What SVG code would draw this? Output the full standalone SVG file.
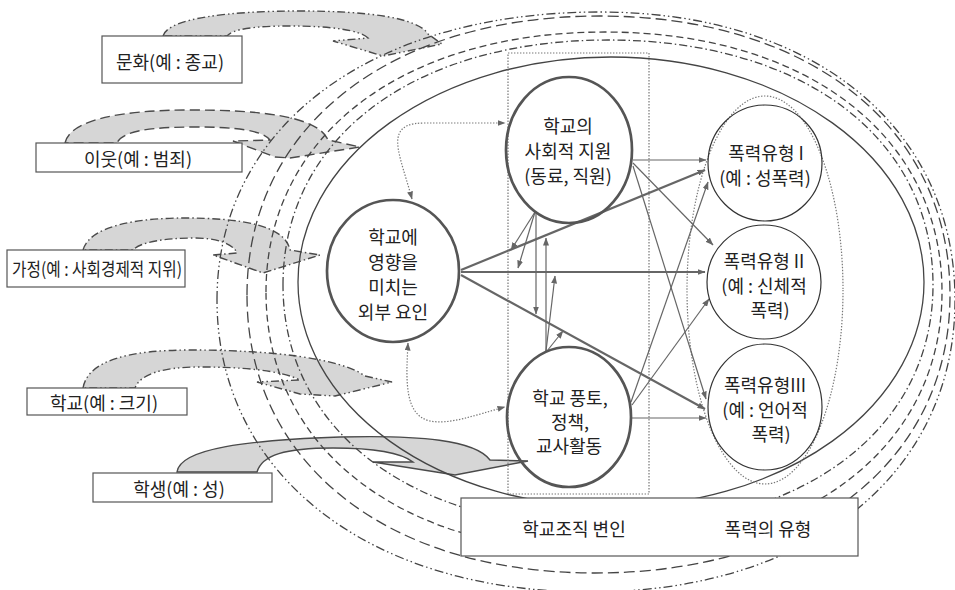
<svg xmlns="http://www.w3.org/2000/svg" width="955" height="590" viewBox="0 0 955 590">
<style>
.bg{fill:#fff}
.band{fill:#d6d6d6;stroke:#4a4a4a;stroke-width:1.4}
.ring{fill:none;stroke:#444;stroke-width:1.3}
.lbl{fill:#fff;stroke:#555;stroke-width:1.2}
.t{font-family:"Noto Sans CJK KR","Noto Sans",sans-serif;font-size:18px;fill:#222;text-anchor:middle;dominant-baseline:central}
.node{fill:none;stroke:#555;stroke-width:2.7}
.vnode{fill:none;stroke:#333;stroke-width:1.2}
.arr{fill:none;stroke:#666;stroke-width:1.2;marker-end:url(#ah)}
.thick{stroke-width:2.2}
.dot{fill:none;stroke:#777;stroke-width:1.2;stroke-dasharray:1.4 1.6}
.dotarr{marker-start:url(#ah);marker-end:url(#ah)}
</style>
<defs>
<marker id="ah" viewBox="0 0 8 6" refX="7.5" refY="3" markerWidth="8" markerHeight="6" markerUnits="userSpaceOnUse" orient="auto-start-reverse">
<path d="M0,0 L8,3 L0,6 Z" fill="#666"/>
</marker>
</defs>
<rect class="bg" x="0" y="0" width="955" height="590"/>

<g id="influence-bands">
<path class="band" stroke-dasharray="8 3 1.5 3 1.5 3" d="M163,36 C168,18 230,11 300,11 C370,11 418,18 428,34 L442,44 L383,56 L333,41 L368,38 C360,30 330,26 290,26 C255,26 232,29 227,36 Z"/>
<path class="band" stroke-dasharray="10 5" d="M65,143 C70,120 120,110 190,110 C260,110 318,116 328,140 L360,147 L290,158 L275,157 L233,141 L270,140 C262,130 235,127 195,127 C150,127 122,131 117,143 Z"/>
<path class="band" stroke-dasharray="8 3 1.5 3" d="M83,250 C90,225 140,218 185,218 C240,218 285,225 290,250 L320,255 L263,273 L213,255 L237,253 C233,243 215,238 195,238 C165,238 140,242 133,250 Z"/>
<path class="band" stroke-dasharray="8 3 1.5 3 1.5 3" d="M83,388 C88,360 130,350 190,350 C270,350 340,358 365,376 L392,382 L335,396 L300,394 L257,382 L300,380 C280,370 240,367 200,367 C160,367 140,375 135,388 Z"/>
<path class="band" stroke="#444" stroke-width="1.6" d="M177,472 C180,448 250,440 340,437 C420,435 475,440 490,460 L528,461 L455,475 L373,462 L413,462 C400,452 370,448 333,448 C285,448 262,455 257,472 Z"/>
</g>

<g id="rings">
<path class="ring" stroke-dasharray="9 3 1.5 3 1.5 3" d="M217,300 C217,127 370,12 600,12 C813,12 955,127 955,300 C955,474 809,592 590,592 C368,592 217,474 217,300 Z"/>
<path class="ring" stroke-dasharray="11 5" d="M247,295 C247,128 388,16 600,16 C810,16 950,128 950,295 C950,462 807,573 595,573 C385,573 247,462 247,295 Z"/>
<path class="ring" stroke-dasharray="7 4" d="M266,292 C266,136 402,32 605,32 C807,32 942,136 942,292 C942,448 805,552 600,552 C400,552 266,448 266,292 Z"/>
<path class="ring" stroke-dasharray="8 3 1.5 3" d="M283,285 C283,138 413,40 608,40 C803,40 933,138 933,285 C933,430 803,528 605,528 C411,528 283,430 283,285 Z"/>
<ellipse class="ring" cx="611" cy="282" rx="313" ry="225"/>
</g>

<g id="group-school-org">
<rect class="dot" x="508" y="53" width="141" height="441"/>
</g>
<g id="group-violence-types">
<ellipse class="dot" cx="765" cy="290" rx="78" ry="194"/>
</g>

<g id="legend">
<rect class="lbl" x="461" y="498" width="397" height="58"/>
<text class="t" x="574" y="528">학교조직 변인</text>
<text class="t" x="768" y="528">폭력의 유형</text>
</g>

<g id="label-culture">
<rect class="lbl" x="102" y="36" width="140" height="47"/>
<text class="t" x="170" y="61">문화(예 : 종교)</text>
</g>
<g id="label-neighborhood">
<rect class="lbl" x="36" y="143" width="206" height="29"/>
<text class="t" x="138" y="158">이웃(예 : 범죄)</text>
</g>
<g id="label-family">
<rect class="lbl" x="7" y="250" width="178" height="37"/>
<text class="t" x="12" y="268" style="text-anchor:start" textLength="170" lengthAdjust="spacingAndGlyphs">가정(예 : 사회경제적 지위)</text>
</g>
<g id="label-school">
<rect class="lbl" x="27" y="388" width="160" height="27"/>
<text class="t" x="104" y="402">학교(예 : 크기)</text>
</g>
<g id="label-student">
<rect class="lbl" x="93" y="473" width="179" height="29"/>
<text class="t" x="179" y="488">학생(예 : 성)</text>
</g>

<g id="connectors">
<path class="arr" d="M633,160 L706,160"/>
<path class="arr" d="M633,163 L713,245"/>
<path class="arr" d="M633,166 L706,399"/>
<path class="arr thick" d="M461,270 L705,170"/>
<path class="arr thick" d="M461,272 L705,272"/>
<path class="arr thick" d="M461,275 L705,409"/>
<path class="arr" d="M632,418 L706,418"/>
<path class="arr" d="M632,405 L709,299"/>
<path class="arr" d="M631,402 L708,182"/>
<path class="arr" d="M535,212 L511,250"/>
<path class="arr" d="M535,212 L518,268"/>
<path class="arr" d="M536,212 L536,314"/>
<path class="arr" d="M546,351 L546,238"/>
<path class="arr" d="M546,351 L555,276"/>
<path class="arr" d="M547,351 L563,331"/>
<path class="dot dotarr" d="M412,199 C404,170 396,150 398,138 C400,126 410,123 425,123 L505,123"/>
<path class="dot dotarr" d="M408,343 C406,380 404,415 430,421 C450,425 475,415 505,407"/>
</g>

<g id="node-external">
<ellipse class="node" cx="393" cy="271" rx="66" ry="71"/>
<text class="t" x="393" y="236">학교에</text>
<text class="t" x="393" y="261">영향을</text>
<text class="t" x="393" y="286">미치는</text>
<text class="t" x="393" y="311">외부 요인</text>
</g>
<g id="node-social-support">
<ellipse class="node" cx="569" cy="150" rx="63" ry="73"/>
<text class="t" x="568" y="125">학교의</text>
<text class="t" x="568" y="150">사회적 지원</text>
<text class="t" x="568" y="175">(동료, 직원)</text>
</g>
<g id="node-climate">
<ellipse class="node" cx="569" cy="417" rx="62" ry="70"/>
<text class="t" x="570" y="397">학교 풍토,</text>
<text class="t" x="570" y="421">정책,</text>
<text class="t" x="569" y="445">교사활동</text>
</g>
<g id="node-violence-1">
<ellipse class="vnode" cx="765" cy="163" rx="57" ry="58"/>
<text class="t" x="766" y="152">폭력유형 I</text>
<text class="t" x="765" y="177">(예 : 성폭력)</text>
</g>
<g id="node-violence-2">
<ellipse class="vnode" cx="764" cy="282" rx="57" ry="57"/>
<text class="t" x="764" y="260">폭력유형 II</text>
<text class="t" x="764" y="285">(예 : 신체적</text>
<text class="t" x="770" y="309">폭력)</text>
</g>
<g id="node-violence-3">
<ellipse class="vnode" cx="765" cy="407" rx="57" ry="63"/>
<text class="t" x="765" y="384">폭력유형III</text>
<text class="t" x="765" y="409">(예 : 언어적</text>
<text class="t" x="771" y="433">폭력)</text>
</g>
</svg>
